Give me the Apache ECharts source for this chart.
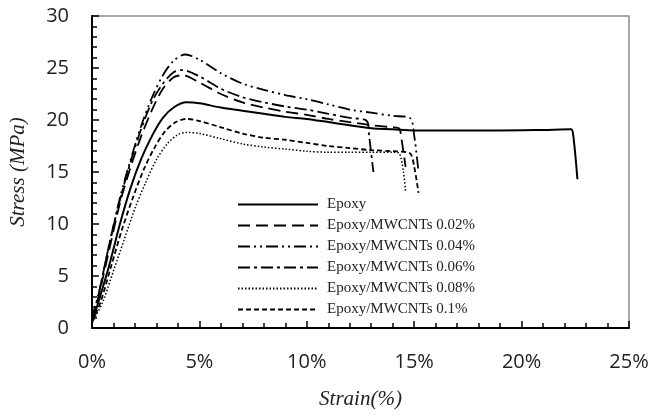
<!DOCTYPE html>
<html>
<head>
<meta charset="utf-8">
<script src="https://cdn.jsdelivr.net/npm/echarts@6/dist/echarts.min.js"></script>
<style>
  html, body { margin: 0; padding: 0; background: #fff; }
  #chart { width: 652px; height: 416px; }
</style>
</head>
<body>
<div id="chart"></div>
<script>
// strain (%) / stress (MPa) pairs
var epoxy = [[0,0.5],[0.3,2.5],[0.8,6],[1.3,10],[1.8,13.5],[2.3,16.3],[2.8,18.5],[3.3,20.2],[3.8,21.2],[4.4,21.7],[5,21.6],[6,21.2],[7,20.9],[8,20.6],[9,20.3],[10,20.1],[11,19.8],[12,19.5],[13,19.2],[14,19.1],[15,19.0],[17,19.0],[19,19.0],[21,19.05],[22.3,19.1],[22.4,18.6],[22.6,14.3]];
var mw002 = [[0,0.8],[0.3,3],[0.8,7.5],[1.3,12],[1.8,15.5],[2.3,18.5],[2.8,21],[3.3,23],[3.8,24.1],[4.2,24.3],[5,23.6],[6,22.5],[7,21.7],[8,21.2],[9,20.8],[10,20.5],[11,20.1],[12,19.8],[13,19.5],[14,19.3],[14.3,19.2],[14.4,18.3],[14.6,15.5]];
var mw004 = [[0,1],[0.3,3.2],[0.8,8],[1.3,12.5],[1.8,16.2],[2.3,19.5],[2.8,22.2],[3.3,24.3],[3.8,25.7],[4.35,26.3],[5,25.8],[6,24.5],[7,23.5],[8,22.9],[9,22.4],[10,22.0],[11,21.5],[12,21.0],[13,20.7],[14,20.4],[14.8,20.2],[15.0,18.5],[15.2,15]];
var mw006 = [[0,0.9],[0.3,3.2],[0.8,8],[1.3,12.3],[1.8,16],[2.3,19.2],[2.8,21.8],[3.3,23.5],[3.8,24.6],[4.2,24.8],[5,24.2],[6,23.0],[7,22.2],[8,21.7],[9,21.3],[10,21.0],[11,20.6],[12,20.2],[12.8,19.9],[12.9,18.5],[13.1,15]];
var mw008 = [[0,0.5],[0.5,2.5],[1.0,5.5],[1.5,8.5],[2.0,11.5],[2.5,14],[3.0,16.2],[3.5,17.7],[4.0,18.6],[4.4,18.8],[5,18.7],[6,18.2],[7,17.7],[8,17.4],[9,17.2],[10,17.0],[11,16.9],[12,16.9],[13,16.9],[14,16.9],[14.3,16.8],[14.5,15],[14.6,13.1]];
var mw01 = [[0,0.6],[0.4,2.5],[0.9,6],[1.4,9.5],[1.9,12.5],[2.4,15.2],[2.9,17.3],[3.4,18.9],[3.9,19.8],[4.4,20.1],[5,19.9],[6,19.3],[7,18.7],[8,18.3],[9,18.1],[10,17.8],[11,17.5],[12,17.3],[13,17.1],[14,17.0],[14.8,16.8],[15.0,15.5],[15.2,13]];

var names = ['Epoxy', 'Epoxy/MWCNTs 0.02%', 'Epoxy/MWCNTs 0.04%', 'Epoxy/MWCNTs 0.06%', 'Epoxy/MWCNTs 0.08%', 'Epoxy/MWCNTs 0.1%'];
var curves = [epoxy, mw002, mw004, mw006, mw008, mw01];
var dashes = ['solid', [12, 6], [12, 4, 2, 4, 2, 4], [12, 4, 3, 4], [1.5, 2], [5, 3]];
var widths = [2, 1.8, 1.8, 1.8, 1.5, 1.8];

var chartDom = document.getElementById('chart');
var myChart = echarts.init(chartDom);

var series = [];
for (var i = 0; i < names.length; i++) {
    series.push({
        name: names[i],
        type: 'line',
        symbol: 'none',
        smooth: 0.3,
        data: curves[i],
        lineStyle: { color: '#000', width: widths[i], type: dashes[i] },
        itemStyle: { color: '#000' }
    });
}

var option = {
    animation: false,
    grid: {
        left: 88, right: 23, top: 16, bottom: 88,
        show: true,
        borderColor: '#8c8c8c',
        borderWidth: 1.5
    },
    legend: {
        data: names,
        orient: 'vertical',
        left: 232,
        top: 192,
        itemWidth: 80,
        itemHeight: 14,
        itemGap: 6,
        itemStyle: { color: 'rgba(0,0,0,0)', borderWidth: 0, opacity: 0 },
        textStyle: {
            fontFamily: 'Liberation Serif',
            fontSize: 15,
            color: '#222',
            padding: [0, 0, 0, 4]
        }
    },
    xAxis: {
        type: 'value',
        min: 0, max: 25, interval: 5,
        name: 'Strain(%)',
        nameLocation: 'middle',
        nameGap: 61,
        nameTextStyle: { fontFamily: 'Liberation Serif', fontStyle: 'italic', fontSize: 21, color: '#222' },
        axisLine: { lineStyle: { color: '#000', width: 2 } },
        axisTick: { inside: true, length: 7, lineStyle: { color: '#000', width: 1.5 } },
        minorTick: { show: true, splitNumber: 5, length: 5, lineStyle: { color: '#000', width: 1.5 } },
        axisLabel: { formatter: '{value}%', margin: 24, fontFamily: 'Open Sans', fontSize: 20, color: '#222' },
        splitLine: { show: false }
    },
    yAxis: {
        type: 'value',
        min: 0, max: 30, interval: 5,
        name: 'Stress (MPa)',
        nameLocation: 'middle',
        nameGap: 63,
        nameTextStyle: { fontFamily: 'Liberation Serif', fontStyle: 'italic', fontSize: 21, color: '#222' },
        axisLine: { lineStyle: { color: '#000', width: 2 } },
        axisTick: { inside: true, length: 7, lineStyle: { color: '#000', width: 1.5 } },
        minorTick: { show: true, splitNumber: 5, length: 5, lineStyle: { color: '#000', width: 1.5 } },
        axisLabel: { margin: 23, fontFamily: 'Open Sans', fontSize: 20, color: '#222' },
        splitLine: { show: false }
    },
    series: series
};

myChart.setOption(option);

window.addEventListener('resize', function() {
    myChart.resize();
});
</script>
</body>
</html>
